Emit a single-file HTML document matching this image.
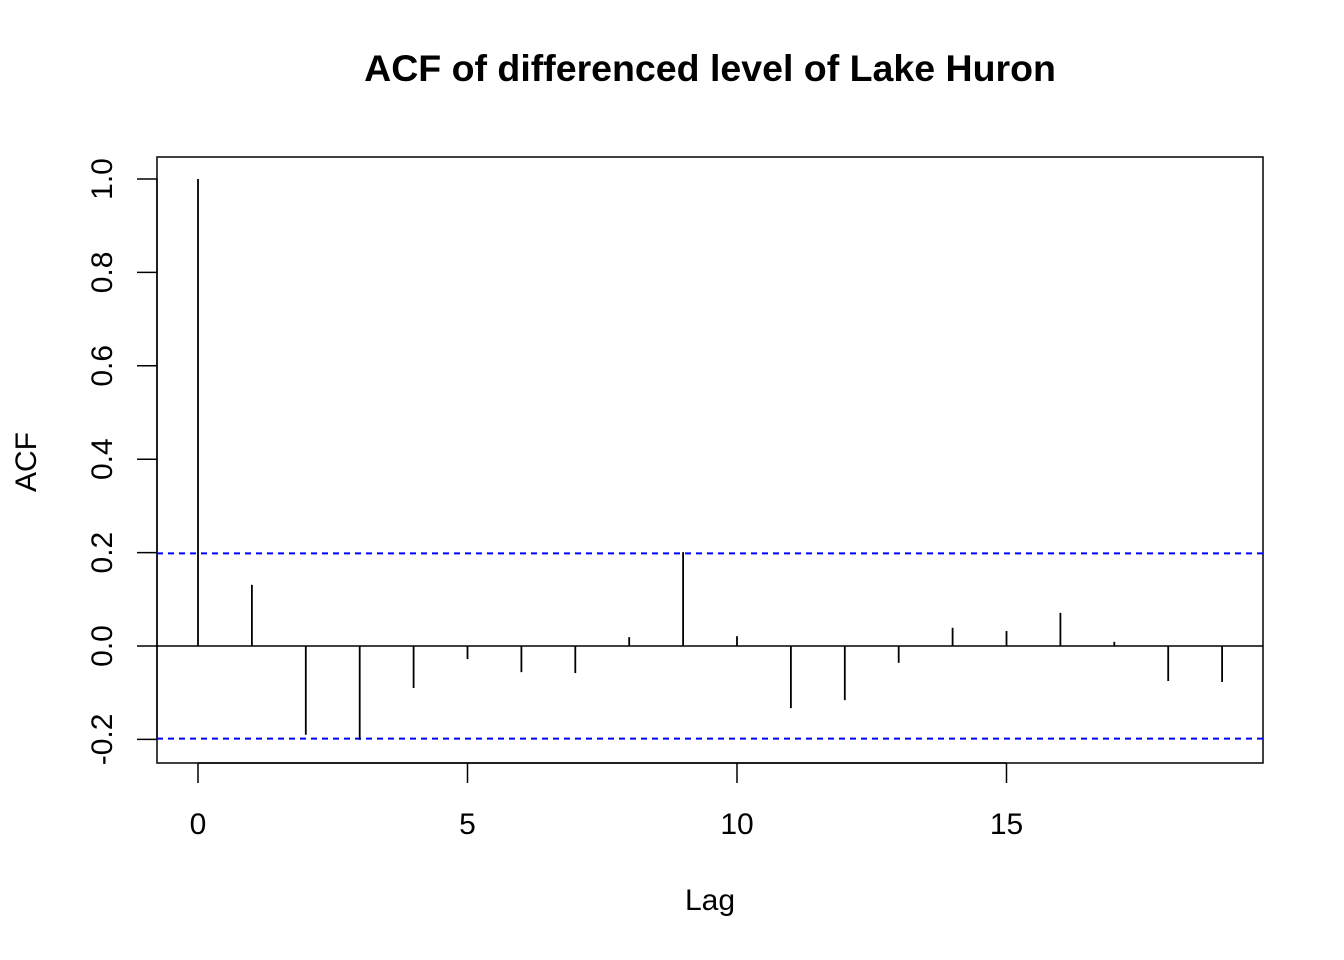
<!DOCTYPE html>
<html><head><meta charset="utf-8"><style>
html,body{margin:0;padding:0;background:#fff;}
svg{display:block;font-family:"Liberation Sans",Arial,sans-serif;}
</style></head><body>
<svg id="chart" width="1344" height="960" viewBox="0 0 1344 960" xmlns="http://www.w3.org/2000/svg">
<text x="710" y="81" text-anchor="middle" font-size="37.5" font-weight="bold">ACF of differenced level of Lake Huron</text>
<rect x="157" y="157" width="1106" height="606" fill="none" stroke="#000" stroke-width="1.5"/>
<text x="710" y="910" text-anchor="middle" font-size="30">Lag</text>
<text transform="translate(36,462) rotate(-90)" text-anchor="middle" font-size="30">ACF</text>
<g id="marks"></g>
</svg>
<script>
const lags = [0,1,2,3,4,5,6,7,8,9,10,11,12,13,14,15,16,17,18,19];
const acfValues = [1.0,0.131,-0.19,-0.201,-0.09,-0.028,-0.056,-0.058,0.019,0.201,0.021,-0.133,-0.116,-0.036,0.039,0.032,0.071,0.009,-0.075,-0.077];
const xTicks = [0,5,10,15];
const yTicks = [-0.2,0.0,0.2,0.4,0.6,0.8,1.0];
const confLimit = 0.1984;

const NS = "http://www.w3.org/2000/svg";
const g = document.getElementById('marks');
const xs = v => 198 + v * 53.9;
const ys = v => 646 - v * 467;
function mk(tag, attrs, parent){const e=document.createElementNS(NS,tag);for(const k in attrs)e.setAttribute(k,attrs[k]);(parent||g).appendChild(e);return e;}

let ax = mk('line',{x1:xs(xTicks[0]),x2:xs(xTicks[xTicks.length-1]),y1:763,y2:763,stroke:'#000','stroke-width':1.5});


xTicks.forEach(t=>{
  const l = mk('line',{x1:xs(t),x2:xs(t),y1:763,y2:783,stroke:'#000','stroke-width':1.5});
  
  
  const tx = mk('text',{x:xs(t),y:834,'text-anchor':'middle','font-size':30});
  tx.textContent = String(t);
  
  
});
let ay = mk('line',{x1:157,x2:157,y1:ys(yTicks[0]),y2:ys(yTicks[yTicks.length-1]),stroke:'#000','stroke-width':1.5});


yTicks.forEach(t=>{
  const l = mk('line',{x1:137,x2:157,y1:ys(t),y2:ys(t),stroke:'#000','stroke-width':1.5});
  
  
  const tx = mk('text',{transform:`translate(112,${ys(t)}) rotate(-90)`,'text-anchor':'middle','font-size':30});
  tx.textContent = t.toFixed(1);
  
  
});
let z = mk('line',{x1:157,x2:1263,y1:ys(0),y2:ys(0),stroke:'#000','stroke-width':1.5});


[confLimit,-confLimit].forEach(c=>{
  const l = mk('line',{x1:157,x2:1263,y1:ys(c),y2:ys(c),stroke:'#0000ff','stroke-width':2,'stroke-dasharray':'6,5'});
  
  
});
lags.forEach((lag,i)=>{
  const l = mk('line',{x1:xs(lag),x2:xs(lag),y1:ys(0),y2:ys(acfValues[i]),stroke:'#000','stroke-width':1.8});
  
  
});
</script>
</body></html>
